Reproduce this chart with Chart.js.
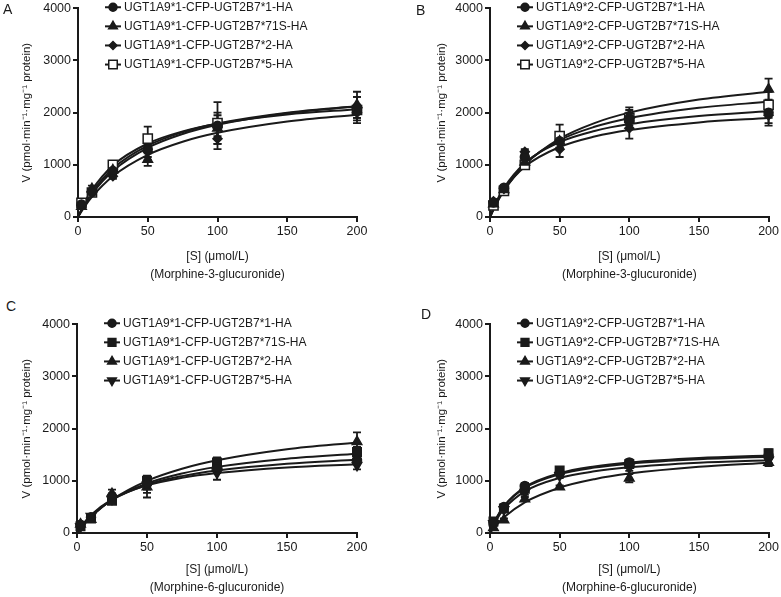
<!DOCTYPE html>
<html>
<head>
<meta charset="utf-8">
<script src="https://cdn.jsdelivr.net/npm/chart.js@4.4.0/dist/chart.umd.min.js"></script>
<style>
  html, body { margin: 0; padding: 0; background: #fff; overflow: hidden; }
  #wrap { position: relative; width: 781px; height: 597px; }
  canvas { position: absolute; }
  .tag { position: absolute; font: 14px "Liberation Sans", Arial, sans-serif; line-height: 1; color: #1a1a1a; }
</style>
</head>
<body>
<div id="wrap">
  <canvas id="chartA" width="390" height="290" style="left:0;top:0"></canvas>
  <canvas id="chartB" width="391" height="290" style="left:390px;top:0"></canvas>
  <canvas id="chartC" width="390" height="290" style="left:0;top:316px"></canvas>
  <canvas id="chartD" width="391" height="290" style="left:390px;top:316px"></canvas>
  <span class="tag" style="left:3px;top:2px">A</span>
  <span class="tag" style="left:416px;top:3px">B</span>
  <span class="tag" style="left:6px;top:299px">C</span>
  <span class="tag" style="left:421px;top:307px">D</span>
</div>
<script>
// substrate concentrations (µmol/L) and the x positions where the fitted curves were read
const concentrations = [2.5, 10, 25, 50, 100, 200];
const fitX = [0, 5, 10, 25, 50, 75, 100, 150, 200];
const xTicks = [0, 50, 100, 150, 200];
const yTicks = [0, 1000, 2000, 3000, 4000];

const labels19_1 = ['UGT1A9*1-CFP-UGT2B7*1-HA', 'UGT1A9*1-CFP-UGT2B7*71S-HA', 'UGT1A9*1-CFP-UGT2B7*2-HA', 'UGT1A9*1-CFP-UGT2B7*5-HA'];
const labels19_2 = ['UGT1A9*2-CFP-UGT2B7*1-HA', 'UGT1A9*2-CFP-UGT2B7*71S-HA', 'UGT1A9*2-CFP-UGT2B7*2-HA', 'UGT1A9*2-CFP-UGT2B7*5-HA'];

// A: UGT1A9*1, morphine-3-glucuronide
const meansA = [
    [240, 480, 880, 1300, 1750, 2100],
    [200, 540, 900, 1100, 1700, 2150],
    [220, 470, 780, 1250, 1500, 2000],
    [270, 470, 1000, 1500, 1800, 2050]
];
const sdA = [
    [40, 50, 60, 150, 200, 200],
    [40, 60, 70, 120, 300, 250],
    [40, 50, 50, 150, 200, 150],
    [40, 50, 60, 230, 400, 250]
];
const fitA = [
    [0, 241, 442, 883, 1325, 1590, 1767, 1988, 2120],
    [0, 260, 473, 929, 1368, 1625, 1793, 2000, 2122],
    [0, 208, 385, 781, 1190, 1442, 1613, 1829, 1961],
    [0, 292, 521, 988, 1408, 1641, 1788, 1965, 2067]
];

// B: UGT1A9*2, morphine-3-glucuronide
const meansB = [
    [280, 560, 1150, 1450, 1850, 2000],
    [250, 520, 1050, 1450, 1950, 2450],
    [300, 540, 1250, 1300, 1700, 1950],
    [220, 500, 1000, 1550, 1900, 2150]
];
const sdB = [
    [50, 40, 60, 120, 150, 200],
    [50, 40, 60, 150, 150, 200],
    [40, 40, 50, 150, 200, 200],
    [50, 50, 60, 220, 150, 250]
];
const fitB = [
    [0, 318, 560, 1031, 1433, 1647, 1780, 1937, 2026],
    [0, 273, 500, 1000, 1500, 1800, 2000, 2250, 2400],
    [0, 297, 524, 965, 1341, 1542, 1667, 1813, 1897],
    [0, 294, 530, 1019, 1472, 1728, 1893, 2092, 2208]
];

// C: UGT1A9*1, morphine-6-glucuronide
const meansC = [
    [160, 300, 700, 950, 1250, 1400],
    [130, 280, 620, 1000, 1350, 1550],
    [170, 260, 750, 880, 1300, 1750],
    [120, 320, 650, 920, 1150, 1300]
];
const sdC = [
    [40, 40, 60, 120, 100, 80],
    [40, 40, 50, 100, 100, 100],
    [40, 40, 80, 200, 100, 180],
    [40, 40, 60, 150, 130, 80]
];
const fitC = [
    [0, 181, 327, 634, 924, 1090, 1197, 1328, 1405],
    [0, 173, 317, 633, 950, 1140, 1267, 1425, 1520],
    [0, 164, 307, 639, 1000, 1232, 1394, 1605, 1736],
    [0, 194, 344, 646, 912, 1057, 1148, 1257, 1319]
];

// D: UGT1A9*2, morphine-6-glucuronide
const meansD = [
    [200, 500, 900, 1150, 1350, 1480],
    [220, 470, 850, 1200, 1320, 1530],
    [100, 250, 650, 880, 1050, 1350],
    [180, 450, 780, 1100, 1250, 1400]
];
const sdD = [
    [40, 50, 60, 50, 60, 60],
    [40, 40, 60, 60, 60, 70],
    [30, 30, 40, 30, 80, 70],
    [40, 40, 50, 50, 60, 60]
];
const fitD = [
    [0, 306, 516, 878, 1146, 1276, 1352, 1439, 1486],
    [0, 300, 506, 862, 1125, 1253, 1328, 1413, 1459],
    [0, 165, 300, 589, 868, 1031, 1138, 1269, 1347],
    [0, 269, 459, 796, 1054, 1182, 1258, 1345, 1393]
];

const INK = '#1a1a1a';
const FONT = '"Liberation Sans", Arial, Helvetica, sans-serif';
Chart.defaults.font.family = FONT;
Chart.defaults.color = INK;

const markersAB = [
    { style: 'circle', rot: 0, r: 4.5, fill: INK },
    { style: 'triangle', rot: 0, r: 5.5, fill: INK },
    { style: 'rectRot', rot: 0, r: 4.5, fill: INK },
    { style: 'rect', rot: 0, r: 6.5, fill: '#fff' }
];
const markersCD = [
    { style: 'circle', rot: 0, r: 4.5, fill: INK },
    { style: 'rect', rot: 0, r: 6, fill: INK },
    { style: 'triangle', rot: 0, r: 5.5, fill: INK },
    { style: 'triangle', rot: 180, r: 5.5, fill: INK }
];

// vertical SD bars with caps, drawn under the markers
const errorBars = {
    id: 'errorBars',
    beforeDatasetsDraw(chart) {
        const { ctx, scales: { x, y } } = chart;
        ctx.save();
        ctx.strokeStyle = INK;
        ctx.lineWidth = 1.8;
        chart.data.datasets.forEach(ds => {
            if (!ds.sd) return;
            ds.data.forEach((p, j) => {
                const px = x.getPixelForValue(p.x);
                const top = y.getPixelForValue(p.y + ds.sd[j]);
                const bot = y.getPixelForValue(Math.max(0, p.y - ds.sd[j]));
                ctx.beginPath();
                ctx.moveTo(px, top); ctx.lineTo(px, bot);
                ctx.moveTo(px - 4, top); ctx.lineTo(px + 4, top);
                ctx.moveTo(px - 4, bot); ctx.lineTo(px + 4, bot);
                ctx.stroke();
            });
        });
        ctx.restore();
    }
};

// legend inside the plot, line + marker like the original figure
const legendInside = {
    id: 'legendInside',
    afterDraw(chart) {
        const { ctx, chartArea } = chart;
        ctx.save();
        ctx.font = '12px ' + FONT;
        ctx.textBaseline = 'middle';
        chart.data.datasets.filter(ds => ds.sd).forEach((ds, i) => {
            const y = chartArea.top - 1 + i * 19.1;
            const x0 = chartArea.left + 27;
            ctx.strokeStyle = INK;
            ctx.lineWidth = 2;
            ctx.beginPath();
            ctx.moveTo(x0, y); ctx.lineTo(x0 + 16, y);
            ctx.stroke();
            ctx.fillStyle = ds.backgroundColor;
            ctx.lineWidth = 1.5;
            Chart.helpers.drawPoint(ctx, {
                pointStyle: ds.pointStyle, rotation: ds.pointRotation,
                radius: ds.pointRadius - 0.5, borderWidth: 1.5
            }, x0 + 8, y);
            ctx.fillStyle = INK;
            ctx.fillText(ds.label, chartArea.left + 46, y);
        });
        ctx.restore();
    }
};

const makePanel = (id, means, sds, fits, labels, markers, substrate, box) => {
    const datasets = [];
    means.forEach((serie, i) => {
        const m = markers[i];
        datasets.push({
            label: labels[i],
            data: concentrations.map((c, j) => ({ x: c, y: serie[j] })),
            sd: sds[i],
            showLine: false,
            pointStyle: m.style,
            pointRotation: m.rot,
            pointRadius: m.r,
            pointHoverRadius: m.r,
            backgroundColor: m.fill,
            pointBackgroundColor: m.fill,
            borderColor: INK,
            pointBorderColor: INK,
            pointBorderWidth: 1.5,
            order: 0,
            clip: false
        });
    });
    fits.forEach(curve => {
        datasets.push({
            label: '',
            data: fitX.map((c, j) => ({ x: c, y: curve[j] })),
            showLine: true,
            pointRadius: 0,
            borderColor: INK,
            borderWidth: 2,
            cubicInterpolationMode: 'monotone',
            order: 1
        });
    });

    return new Chart(document.getElementById(id), {
        type: 'scatter',
        data: { datasets },
        options: {
            responsive: false,
            animation: false,
            events: [],
            layout: { padding: { left: 0, top: 7, right: box.right, bottom: 0 } },
            plugins: { legend: { display: false }, tooltip: { enabled: false } },
            scales: {
                x: {
                    type: 'linear', min: 0, max: 200,
                    afterBuildTicks: s => { s.ticks = xTicks.map(v => ({ value: v })); },
                    afterFit: s => { s.height = 73; },
                    grid: { drawOnChartArea: false, color: INK, lineWidth: 2, tickLength: 5 },
                    border: { color: INK, width: 2 },
                    ticks: { padding: 2, maxRotation: 0, font: { size: 12.5 }, color: INK, callback: v => String(v) },
                    title: {
                        display: true, text: ['[S] (μmol/L)', substrate], color: INK,
                        font: { size: 12, lineHeight: 1.5 }, padding: { top: 0, bottom: box.titleBottom }
                    }
                },
                y: {
                    type: 'linear', min: 0, max: 4000,
                    afterBuildTicks: s => { s.ticks = yTicks.map(v => ({ value: v })); },
                    afterFit: s => { s.width = box.left; },
                    grid: { drawOnChartArea: false, color: INK, lineWidth: 2, tickLength: 5 },
                    border: { color: INK, width: 2 },
                    ticks: { padding: 2, font: { size: 12.5, lineHeight: 1 }, color: INK, callback: v => String(v) },
                    title: {
                        display: true, text: 'V (pmol·min⁻¹·mg⁻¹ protein)', color: INK,
                        font: { size: 11.5, lineHeight: 1.5 }, padding: { top: box.yTitle, bottom: 0 }
                    }
                }
            }
        },
        plugins: [errorBars, legendInside]
    });
};

makePanel('chartA', meansA, sdA, fitA, labels19_1, markersAB, '(Morphine-3-glucuronide)',
    { left: 78, right: 33, yTitle: 18.5, titleBottom: 6 });
makePanel('chartB', meansB, sdB, fitB, labels19_2, markersAB, '(Morphine-3-glucuronide)',
    { left: 100, right: 10, yTitle: 43, titleBottom: 6 });
makePanel('chartC', meansC, sdC, fitC, labels19_1, markersCD, '(Morphine-6-glucuronide)',
    { left: 77, right: 33, yTitle: 18.5, titleBottom: 9 });
makePanel('chartD', meansD, sdD, fitD, labels19_2, markersCD, '(Morphine-6-glucuronide)',
    { left: 100, right: 11, yTitle: 43, titleBottom: 9 });
</script>
</body>
</html>
